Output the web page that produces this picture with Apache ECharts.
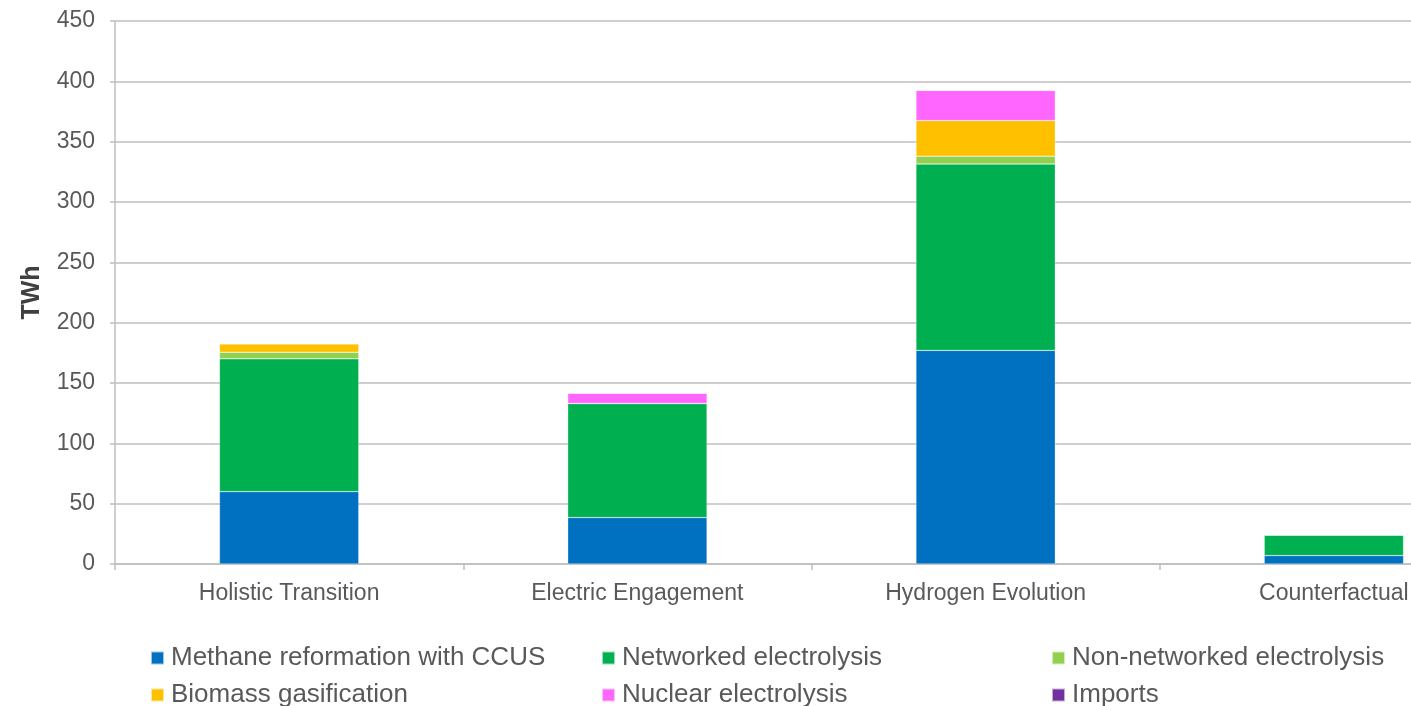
<!DOCTYPE html>
<html>
<head>
<meta charset="utf-8">
<script src="https://cdn.jsdelivr.net/npm/echarts@6/dist/echarts.min.js"></script>
<style>
html,body{margin:0;padding:0;background:#fff;overflow:hidden;width:1411px;height:706px;}
#chart{width:1508px;height:706px;}
</style>
</head>
<body>
<div id="chart"></div>
<script>
const categories = ['Holistic Transition', 'Electric Engagement', 'Hydrogen Evolution', 'Counterfactual'];
const seriesNames = ['Methane reformation with CCUS', 'Networked electrolysis', 'Non-networked electrolysis', 'Biomass gasification', 'Nuclear electrolysis', 'Imports'];
const methane = [60, 38.5, 177, 7];
const networked = [110, 94.5, 154.5, 17];
const nonNetworked = [5.5, 0, 6.5, 0];
const biomass = [7, 0, 29.5, 0];
const nuclear = [0, 8.5, 25, 0.4];
const imports = [0, 0, 0, 0];
const yTicks = [0, 50, 100, 150, 200, 250, 300, 350, 400, 450];

const colors = ['#0070C0', '#00B050', '#92D050', '#FFC000', '#FF66FF', '#7030A0'];
const values = [methane, networked, nonNetworked, biomass, nuclear, imports];
const font = 'Liberation Sans, Arial, sans-serif';
const textColor = '#595959';

const chart = echarts.init(document.getElementById('chart'));

const legendPos = [
  [150, 645], [601, 645], [1051, 645],
  [150, 682], [601, 682], [1051, 682]
];

const option = {
  animation: false,
  color: colors,
  grid: { left: 115, right: 0, top: 21, bottom: 142, containLabel: false },
  legend: seriesNames.map((n, i) => ({
    data: [n],
    left: legendPos[i][0],
    top: legendPos[i][1],
    icon: 'rect',
    itemWidth: 13,
    itemHeight: 13,
    padding: 0,
    textStyle: { fontFamily: font, fontSize: 26, color: textColor, padding: [0, 0, 0, 2] }
  })),
  xAxis: {
    type: 'category',
    data: categories,
    axisLine: { lineStyle: { color: '#BFBFBF', width: 1.5 } },
    axisTick: { show: true, length: 6, lineStyle: { color: '#BFBFBF', width: 1.5 } },
    axisLabel: { fontFamily: font, fontSize: 23, color: textColor, margin: 18 }
  },
  yAxis: {
    type: 'value',
    min: 0,
    max: 450,
    interval: 50,
    name: 'TWh',
    nameLocation: 'middle',
    nameGap: 70,
    nameTextStyle: { fontFamily: font, fontSize: 25, fontWeight: 'bold', color: '#404040' },
    axisLine: { show: true, lineStyle: { color: '#BFBFBF', width: 1.5 } },
    axisTick: { show: true, length: 5, lineStyle: { color: '#BFBFBF', width: 1.5 } },
    splitLine: { lineStyle: { color: '#BFBFBF', width: 1.5 } },
    axisLabel: {
      fontFamily: font, fontSize: 23, color: textColor, margin: 20,
      formatter: v => yTicks.includes(v) ? String(v) : ''
    }
  },
  series: seriesNames.map((n, i) => ({
    name: n,
    type: 'bar',
    stack: 'total',
    barWidth: '40%',
    data: values[i],
    itemStyle: { color: colors[i], borderColor: 'rgba(255,255,255,0.6)', borderWidth: 0.5 }
  }))
};
chart.setOption(option);
</script>
</body>
</html>
